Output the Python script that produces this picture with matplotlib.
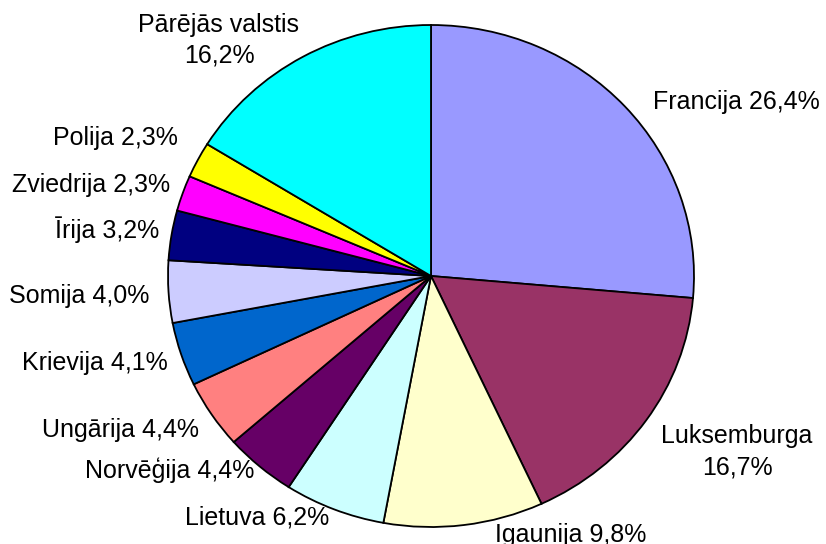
import matplotlib.pyplot as plt

# data
countries = ['Francija', 'Luksemburga', 'Igaunija', 'Lietuva', 'Norvēģija', 'Ungārija',
             'Krievija', 'Somija', 'Īrija', 'Zviedrija', 'Polija', 'Pārējās valstis']
shares = [26.4, 16.7, 9.8, 6.2, 4.4, 4.4, 4.1, 4.0, 3.2, 2.3, 2.3, 16.2]
colors = ['#9999FF', '#993366', '#FFFFCC', '#CCFFFF', '#660066', '#FF8080',
          '#0066CC', '#CCCCFF', '#000080', '#FF00FF', '#FFFF00', '#00FFFF']

W, H = 826, 544

# label anchors in pixels (x, baseline y, alignment, two lines?)
label_pos = [(653, 109, 'left', False),
             (737, 443, 'center', True),
             (495, 542, 'left', False),
             (185, 524, 'left', False),
             (85, 478, 'left', False),
             (42, 437, 'left', False),
             (22, 370, 'left', False),
             (9, 303, 'left', False),
             (55, 238, 'left', False),
             (12, 192, 'left', False),
             (53, 145, 'left', False),
             (219, 32, 'center', True)]

plt.rcParams['font.family'] = ['Liberation Sans', 'DejaVu Sans']

fig = plt.figure(figsize=(W / 100, H / 100), dpi=100)
# pie is slightly wider than tall in the original
ax = fig.add_axes([168 / W, 17 / H, 526 / W, 502 / H])
ax.pie(shares, colors=colors, startangle=90, counterclock=False,
       wedgeprops=dict(edgecolor='black', linewidth=1.3))
ax.set_aspect('auto')
ax.set_xlim(-1, 1)
ax.set_ylim(-1, 1)
ax.axis('off')


def fmt(v):
    return f'{v:.1f}'.replace('.', ',') + '%'


fs = 18
for name, v, (x, y, ha, two) in zip(countries, shares, label_pos):
    if two:
        fig.text(x / W, 1 - y / H, name, ha='center', va='baseline', fontsize=fs)
        fig.text(x / W, 1 - (y + 31) / H, fmt(v), ha='center', va='baseline', fontsize=fs)
    else:
        fig.text(x / W, 1 - y / H, f'{name} {fmt(v)}', ha=ha, va='baseline', fontsize=fs)

fig.savefig('out.png', dpi=100)
